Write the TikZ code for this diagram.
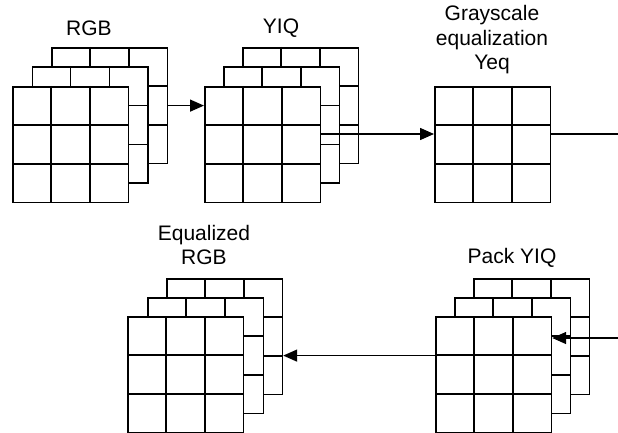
\documentclass[tikz,border=0pt]{standalone}
\usepackage{fontspec}
\setmainfont{Liberation Sans}
\usetikzlibrary{arrows.meta,calc}

\tikzset{
  gridbox/.style={draw, fill=white, line width=1.7pt, minimum size=115.5pt,
    inner sep=0pt, anchor=north west},
  lbl/.style={font=\fontsize{21}{24.5}\selectfont, align=center},
  flow/.style={line width=1.5pt, -{Triangle[length=14pt,width=12pt]}},
}

% one 3x3 layer: name, x, y of its top left corner
\newcommand{\cellgrid}[3]{%
  \node[gridbox] (#1) at (#2,#3) {};
  \foreach \k in {1,2} {
    \draw[line width=1.7pt] ($(#1.north west)!\k/3!(#1.north east)$) -- ($(#1.south west)!\k/3!(#1.south east)$);
    \draw[line width=1.7pt] ($(#1.north west)!\k/3!(#1.south west)$) -- ($(#1.north east)!\k/3!(#1.south east)$);
  }
}

\begin{document}
\begin{tikzpicture}[x=1pt, y=-1pt]
    \useasboundingbox (0,0) rectangle (618,433);

    % RGB stack
    \cellgrid{rgbBack}{51}{47}
    \cellgrid{rgbMid}{31.5}{66.5}
    \cellgrid{rgbFront}{12}{86}
    \node[lbl] (rgbLbl) at (89,28) {RGB};

    % YIQ stack
    \cellgrid{yiqBack}{242}{47}
    \cellgrid{yiqMid}{223}{66.5}
    \cellgrid{yiqFront}{204}{86}
    \node[lbl] (yiqLbl) at (281,28) {YIQ};

    % Grayscale equalization
    \cellgrid{yeq}{434}{86}
    \node[lbl] (yeqLbl) at (492,40) {Grayscale\\equalization\\Yeq};

    % Pack YIQ stack
    \cellgrid{packBack}{473}{278}
    \cellgrid{packMid}{454}{297}
    \cellgrid{packFront}{435}{316}
    \node[lbl] (packLbl) at (512,258) {Pack YIQ};

    % Equalized RGB stack
    \cellgrid{eqBack}{166}{278}
    \cellgrid{eqMid}{147}{297}
    \cellgrid{eqFront}{127}{316}
    \node[lbl] (eqLbl) at (204,245) {Equalized\\RGB};

    % Connectors
    \coordinate (yOut) at (618,134);
    \coordinate (packIn) at (618,338);
    \draw[flow] (rgbBack.east) -- (rgbBack.east -| yiqFront.west);
    \draw[flow] (yOut -| yiqFront.east) -- (yOut -| yeq.west);
    \draw[line width=1.5pt] (yOut -| yeq.east) -- (yOut);
    \draw[flow] (packIn) -- (packIn -| packFront.east);
    \draw[flow] (packMid.center -| packFront.west) -- (packMid.center -| eqBack.east);
\end{tikzpicture}
\end{document}
